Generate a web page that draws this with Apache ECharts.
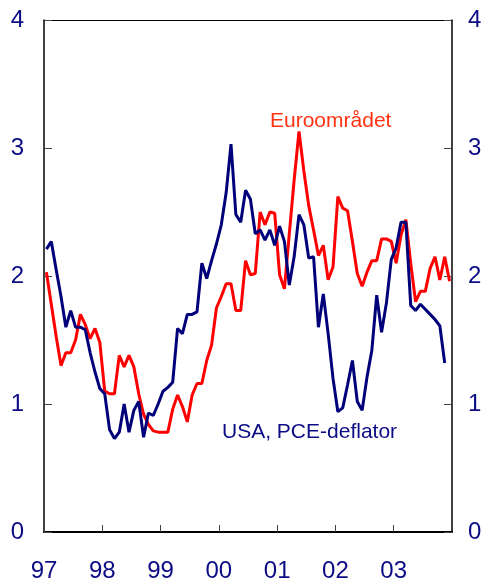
<!DOCTYPE html>
<html>
<head>
<meta charset="utf-8">
<script src="https://cdn.jsdelivr.net/npm/echarts@6/dist/echarts.min.js"></script>
<style>
  html, body { margin: 0; padding: 0; background: #fff; }
  #chart { width: 488px; height: 579px; }
</style>
</head>
<body>
<div id="chart"></div>
<script>
// monthly inflation, % y/y, first value = Jan 1997
var startYear = 1997;
var yearLabels = ['97', '98', '99', '00', '01', '02', '03'];

var euroArea = [
    2.03, 1.78, 1.53, 1.30, 1.40, 1.40, 1.50, 1.70, 1.62, 1.51, 1.59, 1.48,
    1.10, 1.08, 1.08, 1.38, 1.29, 1.38, 1.29, 1.08, 0.92, 0.84, 0.79, 0.78,
    0.78, 0.78, 0.96, 1.07, 0.98, 0.86, 1.07, 1.16, 1.16, 1.34, 1.46, 1.75,
    1.84, 1.94, 1.94, 1.73, 1.73, 2.12, 2.01, 2.02, 2.50, 2.40, 2.50, 2.49,
    2.01, 1.90, 2.33, 2.75, 3.13, 2.82, 2.55, 2.36, 2.16, 2.24, 1.97, 2.07,
    2.62, 2.53, 2.51, 2.27, 2.02, 1.92, 2.03, 2.12, 2.12, 2.29, 2.29, 2.27,
    2.10, 2.32, 2.44, 2.10, 1.80, 1.88, 1.88, 2.06, 2.15, 1.97, 2.15, 1.96
];

var usaPce = [
    2.21, 2.27, 2.05, 1.84, 1.60, 1.73, 1.60, 1.60, 1.58, 1.40, 1.25, 1.12,
    1.08, 0.80, 0.73, 0.78, 1.00, 0.78, 0.95, 1.02, 0.74, 0.93, 0.91, 1.00,
    1.10, 1.13, 1.17, 1.59, 1.55, 1.70, 1.70, 1.72, 2.10, 1.98, 2.12, 2.25,
    2.40, 2.65, 3.03, 2.48, 2.42, 2.67, 2.60, 2.33, 2.36, 2.28, 2.36, 2.24,
    2.39, 2.27, 1.93, 2.15, 2.48, 2.40, 2.14, 2.15, 1.60, 1.86, 1.55, 1.20,
    0.94, 0.97, 1.15, 1.34, 1.02, 0.95, 1.21, 1.42, 1.85, 1.56, 1.79, 2.13,
    2.22, 2.42, 2.42, 1.77, 1.73, 1.78, 1.74, 1.70, 1.66, 1.61, 1.32
];

function toPairs(values) {
    // place each monthly value in the middle of its month
    return values.map(function (v, i) {
        return [startYear + (i + 0.5) / 12, v];
    });
}

var navy = '#0b0b85';
var font = 'Liberation Sans, Arial, sans-serif';

var chart = echarts.init(document.getElementById('chart'));

var yAxisBase = {
    type: 'value',
    min: 0,
    max: 4,
    interval: 1,
    axisLine: { show: true, lineStyle: { color: '#000', width: 1.5 } },
    axisTick: { show: true, inside: true, length: 8, lineStyle: { color: '#444' } },
    splitLine: { show: false },
    axisLabel: { color: navy, fontSize: 24, fontFamily: font }
};

chart.setOption({
    animation: false,
    backgroundColor: '#fff',
    grid: { left: 44, right: 36, top: 20, bottom: 47, outerBoundsMode: 'none' },
    xAxis: [{
        type: 'value',
        min: startYear,
        max: startYear + 7,
        interval: 1,
        axisLine: { show: true, onZero: false, lineStyle: { color: '#000', width: 2 } },
        axisTick: { show: true, inside: true, length: 7, lineStyle: { color: '#444' } },
        splitLine: { show: false },
        axisLabel: {
            color: navy,
            fontSize: 24,
            fontFamily: font,
            margin: 27,
            showMaxLabel: false,
            formatter: function (v) {
                return yearLabels[Math.round(v - startYear)] || '';
            }
        }
    }, {
        type: 'value',
        position: 'top',
        min: startYear,
        max: startYear + 7,
        axisLine: { show: true, onZero: false, lineStyle: { color: '#000', width: 1 } },
        axisTick: { show: false },
        axisLabel: { show: false },
        splitLine: { show: false }
    }],
    yAxis: [
        Object.assign({}, yAxisBase, {
            position: 'left',
            axisLabel: Object.assign({}, yAxisBase.axisLabel, { margin: 20 })
        }),
        Object.assign({}, yAxisBase, {
            position: 'right',
            axisLabel: Object.assign({}, yAxisBase.axisLabel, { margin: 16 })
        })
    ],
    graphic: [{
        type: 'text',
        left: 270,
        top: 111,
        style: { text: 'Euroområdet', fill: '#ff3311', font: '21px ' + font }
    }, {
        type: 'text',
        left: 222,
        top: 422,
        style: { text: 'USA, PCE-deflator', fill: navy, font: '21px ' + font }
    }],
    series: [{
        name: 'Euroområdet',
        type: 'line',
        data: toPairs(euroArea),
        symbol: 'none',
        lineStyle: { color: '#ff0000', width: 3 },
        z: 2
    }, {
        name: 'USA, PCE-deflator',
        type: 'line',
        data: toPairs(usaPce),
        symbol: 'none',
        lineStyle: { color: '#00007a', width: 3 },
        z: 3
    }]
});
</script>
</body>
</html>
